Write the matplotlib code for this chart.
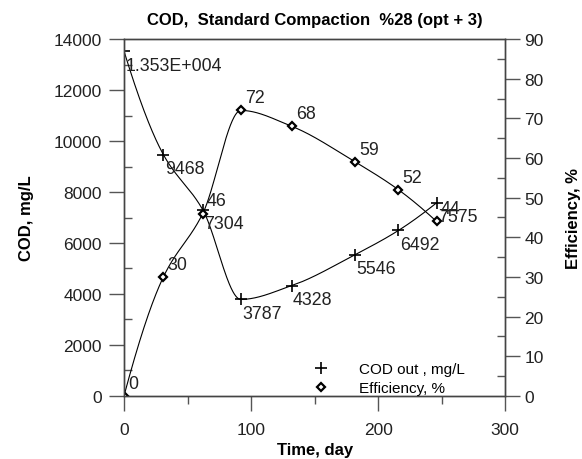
import numpy as np
import matplotlib
matplotlib.use("Agg")
import matplotlib.pyplot as plt
from matplotlib.ticker import MultipleLocator

plt.rcParams['font.family'] = ['Liberation Sans', 'DejaVu Sans']

time_days = [0, 31, 62, 92, 132, 182, 216, 246]
cod_out = [13530, 9468, 7304, 3787, 4328, 5546, 6492, 7575]
efficiency = [0, 30, 46, 72, 68, 59, 52, 44]
cod_labels = ['1.353E+004', '9468', '7304', '3787', '4328', '5546', '6492', '7575']
eff_labels = ['0', '30', '46', '72', '68', '59', '52', '44']


def pchip(x, y, n=500):
    x = np.asarray(x, float); y = np.asarray(y, float)
    h = np.diff(x); delta = np.diff(y) / h
    m = len(x); d = np.zeros(m)
    for k in range(1, m - 1):
        if delta[k - 1] * delta[k] > 0:
            w1 = 2 * h[k] + h[k - 1]; w2 = h[k] + 2 * h[k - 1]
            d[k] = (w1 + w2) / (w1 / delta[k - 1] + w2 / delta[k])
    d[0] = ((2 * h[0] + h[1]) * delta[0] - h[0] * delta[1]) / (h[0] + h[1])
    if np.sign(d[0]) != np.sign(delta[0]):
        d[0] = 0
    d[-1] = ((2 * h[-1] + h[-2]) * delta[-1] - h[-1] * delta[-2]) / (h[-1] + h[-2])
    if np.sign(d[-1]) != np.sign(delta[-1]):
        d[-1] = 0
    xs = np.linspace(x[0], x[-1], n); ys = np.empty_like(xs)
    for j, xv in enumerate(xs):
        i = min(np.searchsorted(x, xv, side='right') - 1, m - 2)
        t = (xv - x[i]) / h[i]
        h00 = 2 * t**3 - 3 * t**2 + 1; h10 = t**3 - 2 * t**2 + t
        h01 = -2 * t**3 + 3 * t**2; h11 = t**3 - t**2
        ys[j] = h00 * y[i] + h10 * h[i] * d[i] + h01 * y[i + 1] + h11 * h[i] * d[i + 1]
    return xs, ys


fig = plt.figure(figsize=(5.82, 4.6), dpi=100)
ax = fig.add_axes([0.213, 0.137, 0.655, 0.776])
ax2 = ax.twinx()

xs, ys = pchip(time_days, cod_out)
ax.plot(xs, ys, color='black', lw=0.8)
h1, = ax.plot(time_days, cod_out, linestyle='none', marker='+', color='black',
              markersize=8, markeredgewidth=1.2)
xs2, ys2 = pchip(time_days, efficiency)
ax2.plot(xs2, ys2, color='black', lw=0.8)
h2, = ax2.plot(time_days, efficiency, linestyle='none', marker='D', markersize=4.5,
               markerfacecolor='white', markeredgecolor='black', markeredgewidth=1.6)

for xv, yv, lab in zip(time_days, cod_out, cod_labels):
    ax.annotate(lab, (xv, yv), xytext=(1, -4), textcoords='offset points',
                ha='left', va='top', fontsize=12.8, color='#222222')
for xv, yv, lab in zip(time_days, efficiency, eff_labels):
    ax2.annotate(lab, (xv, yv), xytext=(3, 3), textcoords='offset points',
                 ha='left', va='bottom', fontsize=12.8, color='#222222')

ax.set_xlim(0, 300)
ax.set_ylim(0, 14000)
ax2.set_ylim(0, 90)
ax.xaxis.set_major_locator(MultipleLocator(100))
ax.xaxis.set_minor_locator(MultipleLocator(50))
ax.yaxis.set_major_locator(MultipleLocator(2000))
ax.yaxis.set_minor_locator(MultipleLocator(1000))
ax2.yaxis.set_major_locator(MultipleLocator(10))
ax2.yaxis.set_minor_locator(MultipleLocator(5))

tc = '#555555'
ax.tick_params(axis='x', which='major', direction='out', length=11, width=1, labelsize=12.5, pad=8, color=tc)
ax.tick_params(axis='x', which='minor', direction='out', length=6, width=1, color=tc)
ax.tick_params(axis='y', which='major', direction='out', length=11, width=1, labelsize=12.5, pad=5, color=tc)
ax.tick_params(axis='y', which='minor', direction='in', length=6, width=1, color=tc)
ax2.tick_params(axis='y', which='major', direction='out', length=11, width=1, labelsize=12.5, pad=3, color=tc)
ax2.tick_params(axis='y', which='minor', direction='in', length=6, width=1, color=tc)
for a in (ax, ax2):
    a.tick_params(labelcolor='#222222')
    for s in a.spines.values():
        s.set_color('#444444'); s.set_linewidth(1)

ax.set_xlabel('Time, day', fontsize=12, fontweight='bold', labelpad=3)
ax.set_ylabel('COD, mg/L', fontsize=12, fontweight='bold', labelpad=14)
ax2.set_ylabel('Efficiency, %', fontsize=12, fontweight='bold', labelpad=16)
ax.set_title('COD,  Standard Compaction  %28 (opt + 3)', fontsize=12, fontweight='bold', pad=11)

ax2.legend([h1, h2], ['COD out , mg/L', 'Efficiency, %'], loc='lower left',
           bbox_to_anchor=(0.48, -0.015), frameon=False, fontsize=11,
           handlelength=1.0, handletextpad=2.0, borderaxespad=0.0, labelspacing=0.35)

fig.savefig('out.png', dpi=100)
